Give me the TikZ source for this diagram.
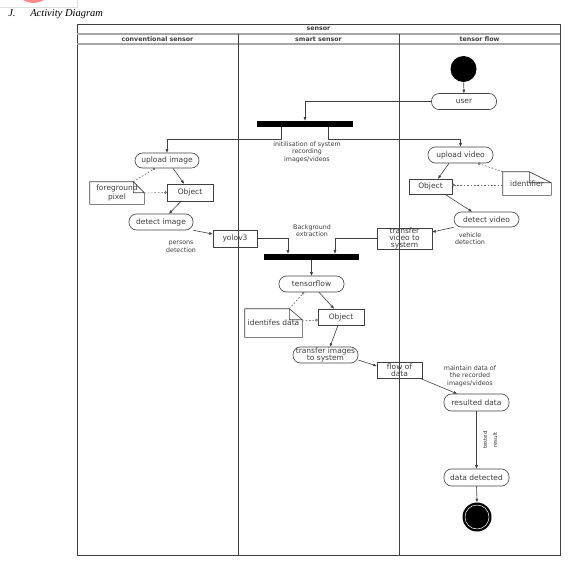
\documentclass[tikz,border=0pt]{standalone}
\usepackage{fontspec}
\setmainfont{DejaVu Sans}
\newfontfamily\titlefont{Liberation Serif}
\usetikzlibrary{arrows.meta}

\definecolor{ln}{HTML}{404040}
\definecolor{txt}{HTML}{3C3C3C}

\begin{document}
\begin{tikzpicture}[x=1pt, y=-1pt, line width=0.6pt]
  \tikzstyle{act}=[draw=ln, rounded corners=7.5pt, inner sep=0pt, minimum width=65pt, minimum height=16pt, align=center, text=txt, font=\fontsize{7.5}{7}\selectfont]
  \tikzstyle{obj}=[draw=ln, inner sep=0pt, minimum width=46pt, minimum height=16pt, align=center, text=txt, font=\fontsize{7.5}{7}\selectfont]
  \tikzstyle{note}=[inner sep=0pt, align=center, text=txt, font=\fontsize{7.5}{8.5}\selectfont]
  \tikzstyle{bar}=[fill=black, inner sep=0pt, minimum height=6pt]
  \tikzstyle{lbl}=[align=center, text=txt, inner sep=0pt, font=\fontsize{6.3}{7.5}\selectfont]
  \tikzstyle{head}=[text=txt, inner sep=0pt, font=\fontsize{6.3}{7}\selectfont\bfseries]
  \tikzstyle{flow}=[draw=ln, -{Triangle[length=3.5pt, width=2.6pt]}]
  \tikzstyle{dep}=[draw=ln!80, dash pattern=on 1.6pt off 1.8pt, -{Circle[open, length=2.6pt]}]

  \useasboundingbox (0,0) rectangle (588,564);

  % cut off logo and title
  \begin{scope}
    \clip (0,0) rectangle (77,3);
    \fill[red!45!white] (33.5,-17) circle (20pt);
  \end{scope}
  \draw[gray!25, line width=0.4pt] (0,7) -- (77,7) -- (77,0);
  \node[anchor=base west, inner sep=0pt, font=\titlefont\itshape\fontsize{10.5}{12}\selectfont] (jnum) at (8,17) {J.};
  \node[anchor=base west, inner sep=0pt, font=\titlefont\itshape\fontsize{10.5}{12}\selectfont] (title) at (30,17) {Activity Diagram};

  % swimlanes
  \draw[ln] (77,24) rectangle (560,555);
  \draw[gray!70, line width=1.3pt] (77,34) -- (560,34);
  \draw[gray!70, line width=1.3pt] (77,44) -- (560,44);
  \draw[ln] (238,34) -- (238,555);
  \draw[ln] (399,34) -- (399,555);
  \node[head] (hsensor) at (318.5,29) {sensor};
  \node[head] (hconv) at (157.5,39.5) {conventional sensor};
  \node[head] (hsmart) at (318.5,39.5) {smart sensor};
  \node[head] (htensor) at (479.5,39.5) {tensor flow};

  % nodes
  \node[circle, fill=black, inner sep=0pt, minimum size=26pt] (start) at (463.5,69) {};
  \node[act] (user) at (464,101.5) {user};
  \node[bar, minimum width=96pt] (bar1) at (305,124) {};
  \node[lbl] (initlbl) at (307,152) {initilisation of system\\recording\\images/videos};

  \node[act, minimum width=64pt, minimum height=15pt] (upimg) at (167,160.5) {upload image};
  \node[obj, minimum height=17pt] (objL) at (190,192.5) {Object};
  \node[note, minimum width=54pt, minimum height=22pt] (fg) at (117,193) {foreground\\pixel};
  \node[act, minimum width=64pt] (detimg) at (161,222) {detect image};
  \node[obj, minimum width=44pt, minimum height=17pt] (yolo) at (235,238.5) {yolov3};
  \node[lbl] (perslbl) at (181,247) {persons\\detection};

  \node[act, minimum height=16pt] (upvid) at (460.5,155) {upload video};
  \node[obj, minimum width=43pt, minimum height=15pt] (objR) at (430.5,186.5) {Object};
  \node[note, minimum width=48pt, minimum height=23pt] (idf) at (527,183.5) {identifier};
  \node[act, minimum height=15pt] (detvid) at (486.5,219.5) {detect video};
  \node[lbl] (vehlbl) at (470,238.5) {vehicle\\detection};
  \node[obj, minimum width=55pt, minimum height=21pt] (trvid) at (404.5,238.5) {transfer\\video to\\system};

  \node[lbl] (bglbl) at (312,230.5) {Background\\extraction};
  \node[bar, minimum width=95pt] (bar2) at (311.5,257) {};
  \node[act] (tf) at (311.5,284) {tensorflow};
  \node[obj] (objM) at (341,317) {Object};
  \node[note, minimum width=57pt, minimum height=28pt] (idd) at (273.5,323) {identifes data};
  \node[act] (trimg) at (325.5,355) {transfer images\\to system};
  \node[obj, minimum width=45pt] (flow) at (399.5,370) {flow of\\data};
  \node[lbl] (mainlbl) at (470,376) {maintain data of\\the recorded\\images/videos};

  \node[act, minimum height=17pt] (res) at (476.5,402.5) {resulted data};
  \node[lbl, rotate=90, font=\fontsize{5.5}{10}\selectfont] (testlbl) at (490,440) {tested\\result};
  \node[act, minimum height=17pt] (det) at (476.5,477.5) {data detected};
  \node[circle, fill=black, inner sep=0pt, minimum size=29pt] (end) at (477,517) {};
  \draw[white, line width=0.5pt] (end.center) circle (12pt);

  % note outlines
  \foreach \n/\fx/\fy in {fg/11/11, idf/22/11, idd/13/11}
    \draw[ln] (\n.south west) -- (\n.north west) -- ([xshift=-\fx pt]\n.north east)
      -- ([yshift=-\fy pt]\n.north east) -- (\n.south east) -- cycle
      ([xshift=-\fx pt]\n.north east) -- ([xshift=-\fx pt, yshift=-\fy pt]\n.north east)
      -- ([yshift=-\fy pt]\n.north east);

  % connectors
  \draw[flow] (start) -- (user);
  \draw[flow] (user.west) -| (bar1.north);
  \draw[flow] ([xshift=-24pt]bar1.south) -- ++(0,12) -| (upimg.north);
  \draw[flow] ([xshift=23pt]bar1.south) -- ++(0,12) -| (upvid.north);

  \draw[flow] ([xshift=6pt]upimg.south) -- ([xshift=-6pt]objL.north);
  \draw[dep] ([xshift=-11pt]fg.north east) -- ([xshift=-12pt]upimg.south);
  \draw[dep] (fg.east) -- (objL.west);
  \draw[flow] ([xshift=-9pt]objL.south) -- ([xshift=8pt]detimg.north);
  \draw[flow] (detimg.south east) -- ([yshift=4.5pt]yolo.west);
  \draw[flow] (yolo.east) -| ([xshift=-23.5pt]bar2.north);

  \draw[flow] ([xshift=-11.5pt]upvid.south) -- ([xshift=7.5pt]objR.north);
  \draw[dep] (idf.north west) -- ([xshift=17.5pt]upvid.south);
  \draw[dep] ([yshift=-1.5pt]idf.west) -- ([yshift=1.5pt]objR.east);
  \draw[flow] ([xshift=14.5pt]objR.south) -- ([xshift=-14.5pt]detvid.north);
  \draw[flow] (detvid.south west) -- ([yshift=6.5pt]trvid.east);
  \draw[flow] (trvid.west) -| ([xshift=23.5pt]bar2.north);

  \draw[flow] (bar2.south) -- (tf.north);
  \draw[flow] ([xshift=7.5pt]tf.south) -- ([xshift=-7pt]objM.north);
  \draw[dep] ([xshift=-13pt]idd.north east) -- ([xshift=-7.5pt]tf.south);
  \draw[dep] ([yshift=2pt]idd.east) -- ([yshift=-3pt]objM.west);
  \draw[flow] ([xshift=-3pt]objM.south) -- ([xshift=4.5pt]trimg.north);
  \draw[flow] ([yshift=-5pt]trimg.east) -- ([yshift=4pt]flow.west);
  \draw[flow] ([xshift=20.5pt]flow.south) -- ([xshift=-19.5pt]res.north);
  \draw[flow] (res.south) -- (det.north);
  \draw[flow] (det.south) -- (end.north);
\end{tikzpicture}
\end{document}
